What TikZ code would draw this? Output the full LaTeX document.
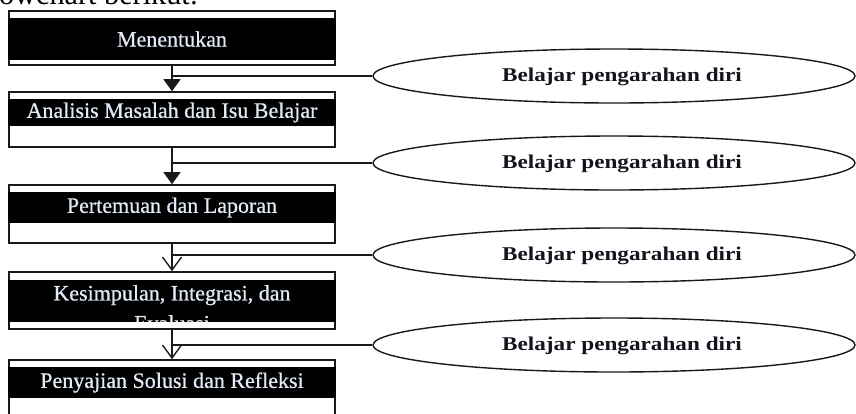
\documentclass[tikz,border=0pt]{standalone}
\usepackage{fontspec}
\setmainfont{Liberation Serif}
\usetikzlibrary{shapes.geometric,arrows.meta}
\definecolor{boxtxt}{RGB}{226,234,246}
\definecolor{ovaltxt}{RGB}{20,20,30}
\definecolor{edge}{RGB}{25,25,25}

\begin{document}
\begin{tikzpicture}[x=1pt,y=-1pt,
  stepbox/.style={rectangle, draw=edge, line width=1.6pt, fill=white,
    minimum width=326pt, inner sep=0pt},
  bandtext/.style={text=boxtxt, inner sep=0pt,
    font=\fontsize{22}{30}\selectfont\addfontfeature{FakeBold=0.6}},
  oval/.style={ellipse, draw=edge, line width=1.4pt, minimum width=482pt,
    minimum height=54pt, inner sep=0pt},
  ovaltext/.style={text=ovaltxt, inner sep=0pt, anchor=base,
    font=\fontsize{19.5}{22}\selectfont\bfseries\addfontfeature{FakeStretch=1.19}},
  link/.style={draw=edge, line width=1.4pt},
  solidtip/.style={link, -{Triangle[width=17pt,length=12pt]}},
  opentip/.style={link, -{Straight Barb[width=19pt,length=13pt,line width=1.4pt]}},
]
\useasboundingbox (0,0) rectangle (856,413);

% running text above the chart
\node[anchor=base west, inner sep=0pt] (lead) at (-1,4.5)
  {\resizebox{199pt}{!}{\fontsize{30}{34}\selectfont owchart berikut:}};

% process boxes with their dark title bands
\node[stepbox, minimum height=54pt] (b1) at (172,38) {};
\fill[black] ([yshift=-8pt]b1.north west) rectangle ([yshift=6pt]b1.south east);
\node[bandtext] (t1) at (172,39) {Menentukan};

\node[stepbox, minimum height=55pt] (b2) at (172,119.5) {};
\fill[black] ([yshift=-8pt]b2.north west) rectangle ([yshift=22pt]b2.south east);
\node[bandtext] (t2) at (172,112.5) {Analisis Masalah dan Isu Belajar};

\node[stepbox, minimum height=58pt] (b3) at (172,214) {};
\fill[black] ([yshift=-8pt]b3.north west) rectangle ([yshift=21pt]b3.south east);
\node[bandtext] (t3) at (172,207.5) {Pertemuan dan Laporan};

\node[stepbox, minimum height=57pt] (b4) at (172,300.5) {};
\fill[black] ([yshift=-9pt]b4.north west) rectangle ([yshift=8pt]b4.south east);
\begin{scope}
  \clip ([yshift=-9pt]b4.north west) rectangle ([yshift=8pt]b4.south east);
  \node[bandtext, align=center, anchor=north] (t4) at (172,285)
    {Kesimpulan, Integrasi, dan\\Evaluasi};
\end{scope}

\node[stepbox, minimum height=70pt] (b5) at (172,395) {};
\fill[black] ([yshift=-8pt]b5.north west) rectangle ([yshift=33pt]b5.south east);
\node[bandtext] (t5) at (172,382.5) {Penyajian Solusi dan Refleksi};

% flow arrows
\draw[solidtip] (b1.south) -- (b2.north);
\draw[solidtip] (b2.south) -- (b3.north);
\draw[opentip] (b3.south) -- (b4.north);
\draw[opentip] (b4.south) -- (b5.north);

% self-directed learning ovals
\node[oval] (e1) at (614,76) {};
\node[oval] (e2) at (614,163) {};
\node[oval] (e3) at (614,255) {};
\node[oval] (e4) at (614,345) {};
\node[ovaltext] (l1) at (622,81) {Belajar pengarahan diri};
\node[ovaltext] (l2) at (622,168) {Belajar pengarahan diri};
\node[ovaltext] (l3) at (622,260) {Belajar pengarahan diri};
\node[ovaltext] (l4) at (622,350) {Belajar pengarahan diri};

% side links from each arrow to its oval
\draw[link] (b1.south |- e1.west) -- (e1.west);
\draw[link] (b2.south |- e2.west) -- (e2.west);
\draw[link] (b3.south |- e3.west) -- (e3.west);
\draw[link] (b4.south |- e4.west) -- (e4.west);
\end{tikzpicture}
\end{document}
